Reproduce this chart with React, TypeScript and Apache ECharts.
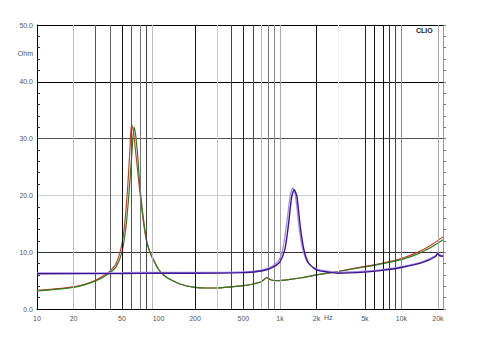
import React, { useEffect, useRef } from "react";
import * as echarts from "echarts";

// Impedance curves: [frequency Hz, impedance Ohm]
const wooferRed: [number, number][] = [
  [10, 3.3], [15, 3.6], [20, 3.9], [25, 4.4], [30, 5.0], [35, 5.8], [40, 6.7], [45, 8.1],
  [50, 11.4], [53, 15.5], [56, 22], [58, 27.5], [60, 32.4], [62, 31.5], [65, 27.5],
  [70, 21], [75, 15.5], [80, 11.8], [85, 10.0], [90, 8.8], [100, 7.0], [110, 6.0], [120, 5.4],
  [150, 4.4], [200, 3.8], [250, 3.7], [300, 3.7], [400, 3.9], [500, 4.1], [600, 4.4], [700, 4.8],
  [780, 5.5], [850, 5.1], [950, 5.0], [1200, 5.2], [1500, 5.5], [2000, 6.0], [3000, 6.6],
  [5000, 7.5], [7000, 8.1], [10000, 8.9], [14000, 10.1], [18000, 11.4], [22000, 12.7],
];
const wooferGreen: [number, number][] = [
  [10, 3.2], [15, 3.5], [20, 3.8], [25, 4.3], [30, 4.9], [35, 5.6], [40, 6.4], [45, 7.5],
  [50, 10.0], [54, 14.5], [57, 20], [60, 26.5], [63, 32.0], [65, 30.5], [68, 26],
  [70, 22], [75, 16], [80, 12.0], [85, 10.1], [90, 8.9], [100, 7.0], [110, 6.0], [120, 5.4],
  [150, 4.4], [200, 3.8], [250, 3.7], [300, 3.7], [400, 3.9], [500, 4.1], [600, 4.4], [700, 4.8],
  [780, 5.5], [850, 5.1], [950, 5.0], [1200, 5.2], [1500, 5.5], [2000, 6.0], [3000, 6.6],
  [5000, 7.4], [7000, 8.0], [10000, 8.7], [14000, 9.8], [18000, 11.0], [22000, 12.2],
];
const tweeterDark: [number, number][] = [
  [10, 6.2], [50, 6.25], [100, 6.3], [200, 6.3], [500, 6.4], [700, 6.7], [800, 7.0],
  [900, 7.5], [1000, 8.3], [1100, 10.6], [1170, 14.5], [1250, 19.8], [1310, 21.0],
  [1380, 19.8], [1470, 14.5], [1570, 10.6], [1720, 8.1], [2000, 6.9], [2500, 6.5],
  [3000, 6.3], [5000, 6.5], [7000, 6.8], [10000, 7.3], [15000, 8.2], [19000, 9.2],
  [20000, 9.8], [20500, 9.4], [22000, 9.3],
];
const tweeterLight: [number, number][] = [
  [10, 6.35], [50, 6.4], [100, 6.45], [200, 6.45], [500, 6.55], [700, 6.85], [800, 7.2],
  [900, 7.8], [1000, 8.9], [1070, 11.2], [1140, 15.2], [1220, 20.2], [1275, 21.3],
  [1340, 20.0], [1430, 14.8], [1530, 10.8], [1680, 8.3], [2000, 7.05], [2500, 6.65],
  [3000, 6.45], [5000, 6.65], [7000, 6.95], [10000, 7.45], [15000, 8.35], [19000, 9.35],
  [20000, 9.95], [20500, 9.55], [22000, 9.45],
];

const xLabelFreqs = [10, 20, 50, 100, 200, 500, 1000, 2000, 5000, 10000, 20000];
const xLabelTexts = ["10", "20", "50", "100", "200", "500", "1k", "2k", "5k", "10k", "20k"];
const gridFreqs = [20, 30, 40, 50, 60, 70, 80, 90, 200, 300, 400, 500, 600, 700, 800, 900, 1000, 2000, 3000, 5000, 6000, 7000, 8000, 9000, 10000, 20000];
const gridShades = ["#bbbbbb", "#555555", "#666666", "#111111", "#555555", "#777777", "#444444", "#bbbbbb", "#111111", "#cccccc", "#444444", "#222222", "#444444", "#bbbbbb", "#777777", "#888888", "#aaaaaa", "#111111", "#eeeeee", "#222222", "#111111", "#111111", "#333333", "#444444", "#888888", "#aaaaaa"];
const yMin = 0;
const yMax = 50;
const yStep = 10;
const hSplitShades = ["#000000", "#333333", "#cccccc", "#555555", "#000000", "#000000"];
const xMinFreq = 10;
const xMaxFreq = 22000;

const lg = (f: number) => Math.log10(f);
const toXY = (arr: [number, number][]) => arr.map(([f, z]) => [lg(f), z]);

export default function App() {
  const ref = useRef<HTMLDivElement>(null);
  useEffect(() => {
    if (!ref.current) return;
    const chart = echarts.init(ref.current, null, { renderer: "svg" });
    const labelMap: Record<string, string> = {};
    xLabelFreqs.forEach((f, i) => {
      labelMap[lg(f).toFixed(4)] = xLabelTexts[i];
    });
    const font = "Liberation Sans, Arial, sans-serif";
    const lineSeries = (name: string, data: [number, number][], color: string, width: number, z: number) => ({
      name,
      type: "line",
      data: toXY(data),
      showSymbol: false,
      symbol: "none",
      smooth: 0.25,
      z,
      lineStyle: { color, width },
      silent: true,
    });
    chart.setOption({
      animation: false,
      backgroundColor: "#ffffff",
      grid: { left: 37, right: 37, top: 25, bottom: 51, containLabel: false },
      xAxis: {
        type: "value",
        min: lg(xMinFreq),
        max: lg(xMaxFreq),
        axisLine: { show: true, onZero: false, lineStyle: { color: "#000", width: 1 } },
        axisTick: { show: false, customValues: xLabelFreqs.map(lg) },
        splitLine: { show: false },
        axisLabel: {
          customValues: xLabelFreqs.map(lg),
          formatter: (v: number) => labelMap[v.toFixed(4)] ?? "",
          fontSize: 7,
          color: "#555",
          fontFamily: font,
          margin: 6,
          hideOverlap: false,
          showMinLabel: true,
          showMaxLabel: true,
        },
      },
      yAxis: [
        {
          type: "value",
          min: yMin,
          max: yMax,
          interval: yStep,
          position: "left",
          axisLine: { show: true, lineStyle: { color: "#000", width: 1 } },
          axisTick: { show: false, inside: true },
          minorTick: { show: true, splitNumber: 5, length: 3, lineStyle: { color: "#333" } },
          splitLine: { show: true, lineStyle: { color: hSplitShades, width: 1 } },
          axisLabel: {
            formatter: (v: number) => v.toFixed(1),
            fontSize: 7,
            color: "#555",
            fontFamily: font,
            margin: 4,
          },
        },
        {
          type: "value",
          min: yMin,
          max: yMax,
          interval: yStep,
          position: "right",
          axisLine: { show: true, lineStyle: { color: "#999", width: 1 } },
          axisTick: { show: true, length: 3, lineStyle: { color: "#777" } },
          minorTick: { show: true, splitNumber: 5, length: 3, lineStyle: { color: "#777" } },
          splitLine: { show: false },
          axisLabel: { show: false },
        },
      ],
      graphic: [
        { type: "text", right: 480 - 33, top: 50, style: { text: "Ohm", fontSize: 7, fill: "#555", fontFamily: font } },
        { type: "text", left: 324, top: 314, style: { text: "Hz", fontSize: 7, fill: "#555", fontFamily: font } },
        { type: "text", left: 416, top: 27, style: { text: "CLIO", fontSize: 7, fontWeight: "bold", fill: "#222", fontFamily: font } },
      ],
      series: [
        {
          name: "grid",
          type: "line",
          data: [],
          silent: true,
          z: 1,
          markLine: {
            silent: true,
            symbol: "none",
            animation: false,
            label: { show: false },
            data: gridFreqs.map((f, i) => ({ xAxis: lg(f), lineStyle: { color: gridShades[i], width: 1, type: "solid" } })),
          },
        },
        lineSeries("woofer A", wooferRed, "#c0402a", 1.2, 3),
        lineSeries("woofer B", wooferGreen, "#2e7a1e", 1.2, 4),
        lineSeries("tweeter A", tweeterLight, "#a48be6", 1.3, 5),
        lineSeries("tweeter B", tweeterDark, "#3b1590", 1.4, 6),
      ],
    });
    return () => chart.dispose();
  }, []);
  return <div ref={ref} style={{ width: 480, height: 360, position: "absolute", left: 0, top: 0 }} />;
}
